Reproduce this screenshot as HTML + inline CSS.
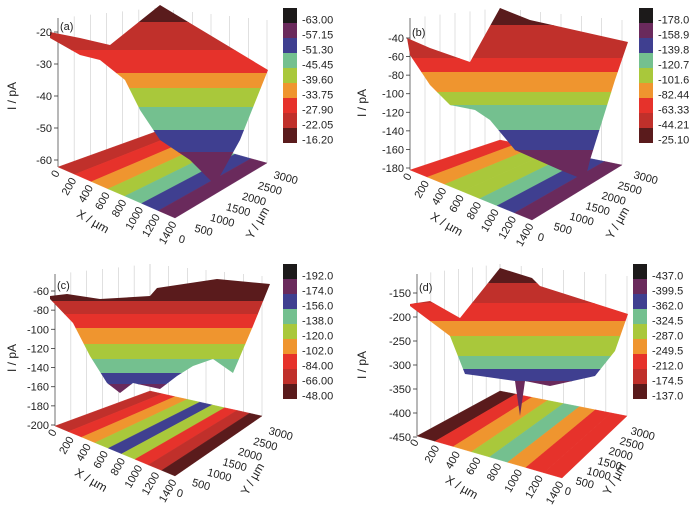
<!DOCTYPE html>
<html><head><meta charset="utf-8"><style>
body{margin:0;background:#fff;overflow:hidden;}
svg{display:block;font-family:"Liberation Sans",sans-serif;}
</style></head><body>
<svg id="fig" width="700" height="512" viewBox="0 0 700 512"></svg>
<script>
const palette=["#1c1a1a","#6a2a5c","#3f3f90","#74c08f","#a9c83b","#ef952f","#e6322b","#c0302b","#5a1b1c"];
const panelLabels=["(a)","(b)","(c)","(d)"];
const zTicksA=["-20","-30","-40","-50","-60"];
const zTicksB=["-40","-60","-80","-100","-120","-140","-160","-180"];
const zTicksC=["-60","-80","-100","-120","-140","-160","-180","-200"];
const zTicksD=["-150","-200","-250","-300","-350","-400","-450"];
const cbarA=["-63.00","-57.15","-51.30","-45.45","-39.60","-33.75","-27.90","-22.05","-16.20"];
const cbarB=["-178.0","-158.9","-139.8","-120.7","-101.6","-82.44","-63.33","-44.21","-25.10"];
const cbarC=["-192.0","-174.0","-156.0","-138.0","-120.0","-102.0","-84.00","-66.00","-48.00"];
const cbarD=["-437.0","-399.5","-362.0","-324.5","-287.0","-249.5","-212.0","-174.5","-137.0"];
const xTicks=["0","200","400","600","800","1000","1200","1400"];
const yTicks=["0","500","1000","1500","2000","2500","3000"];
const NS="http://www.w3.org/2000/svg";
const svg=document.getElementById('fig');
const defs=document.createElementNS(NS,'defs');svg.appendChild(defs);
function mk(tag,attrs,parent){const e=document.createElementNS(NS,tag);for(const k in attrs)e.setAttribute(k,attrs[k]);(parent||svg).appendChild(e);return e;}
function lerp(a,b,t){return [a[0]+(b[0]-a[0])*t,a[1]+(b[1]-a[1])*t];}
const panels=[
 {ox:0,oy:0,z:zTicksA,cb:cbarA,zTop:32,zBot:160,L:[58,167],F:[175,218],R:[267,163],K:[155,132],
  outline:[[50,32],[80,38],[110,45],[160,5],[268,70],[240,140],[215,185],[190,160],[160,140],[140,110],[125,80],[100,60],[80,55],[50,38]],
  cuts:[22,50,73,88,107,130,152,400],sc:[8,7,6,5,4,3,2,1],fc:[7,6,5,4,3,2,1],
  yS:[178,242],yE:[273,178]},
 {ox:350,oy:0,z:zTicksB,cb:cbarB,zTop:38,zBot:168,L:[60,170],F:[182,220],R:[272,165],K:[150,140],
  outline:[[57,38],[80,48],[120,62],[150,8],[180,20],[278,42],[265,80],[240,160],[235,180],[210,170],[165,150],[140,120],[125,110],[100,105],[80,85],[60,55]],
  cuts:[25,58,72,92,105,130,150,400],sc:[8,7,6,5,4,3,2,1],fc:[6,5,4,4,3,2,1],
  yS:[187,240],yE:[283,178]},
 {ox:0,oy:256,z:zTicksC,cb:cbarC,zTop:35,zBot:169,L:[55,170],F:[175,220],R:[262,160],K:[150,135],
  outline:[[50,40],[67,38],[100,43],[150,40],[157,32],[217,23],[270,28],[253,70],[233,117],[213,103],[193,110],[177,120],[160,133],[133,127],[120,137],[107,127],[90,100],[73,67],[50,43]],
  cuts:[45,58,72,88,103,117,128,400],sc:[8,7,6,5,4,3,2,1],fc:[7,6,5,4,2,4,6,7,8],
  yS:[176,240],yE:[268,178]},
 {ox:350,oy:256,z:zTicksD,cb:cbarD,zTop:37,zBot:181,L:[67,180],F:[212,222],R:[277,160],K:[150,135],
  outline:[[60,48],[80,45],[110,62],[150,12],[182,22],[190,30],[278,58],[265,95],[245,120],[200,130],[175,125],[170,160],[165,125],[130,120],[115,118],[100,80],[60,50]],
  cuts:[27,47,65,80,100,113,125,400],sc:[8,7,6,5,4,3,2,1],fc:[8,6,5,4,3,5,6,6],
  yS:[214,238],yE:[280,178]}
];
panels.forEach((p,pi)=>{
 const g=mk('g',{transform:`translate(${p.ox},${p.oy})`});
 
 
 const P=a=>a.map(v=>v[0].toFixed(1)+','+v[1].toFixed(1)).join(' ');
 const topY=8;
 const wall=mk('g',{stroke:'#ccc','stroke-width':0.6,fill:'none'},g);
 
 
 for(let i=0;i<=6;i++){const a=lerp(p.L,p.K,i/6);mk('line',{x1:a[0],y1:a[1],x2:a[0],y2:topY+(1-i/6)*10},wall);
  const b=lerp(p.K,p.R,i/6);mk('line',{x1:b[0],y1:b[1],x2:b[0],y2:topY+(i/6)*12},wall);}
 mk('line',{x1:p.L[0],y1:p.L[1],x2:p.L[0],y2:topY+10,stroke:'#555','stroke-width':0.8},g);
 const n=p.fc.length;
 p.fc.forEach((ci,i)=>{
  const t0=i/n,t1=(i+1)/n;
  const poly=mk('polygon',{points:P([lerp(p.L,p.F,t0),lerp(p.K,p.R,t0),lerp(p.K,p.R,t1),lerp(p.L,p.F,t1)]),fill:palette[ci],stroke:palette[ci],'stroke-width':0.4},g);
  
  
 });
 const cid='clip'+pi;
 const cp=mk('clipPath',{id:cid},defs);
 mk('polygon',{points:P(p.outline)},cp);
 const sg=mk('g',{'clip-path':`url(#${cid})`},g);
 
 
 let prev=0;
 p.cuts.forEach((c,i)=>{
  const r=mk('rect',{x:0,y:prev,width:300,height:c-prev+0.5,fill:palette[p.sc[i]]},sg);
  
  
  prev=c;
 });
 p.z.forEach((t,i)=>{
  const y=p.zTop+(p.zBot-p.zTop)*i/(p.z.length-1);
  mk('line',{x1:p.L[0]-4,y1:y,x2:p.L[0],y2:y,stroke:'#333','stroke-width':0.8},g);
  const tx=mk('text',{x:p.L[0]-6,y:y+4,'font-size':11,'text-anchor':'end',fill:'#222'},g);
  tx.textContent=t;
  
  
 });
 const zl=mk('text',{x:0,y:0,'font-size':12,'text-anchor':'middle',transform:`translate(16,${(p.zTop+p.zBot)/2}) rotate(-90)`,fill:'#222'},g);
 zl.textContent='I / pA';
 
 
 const pl=mk('text',{x:p.L[0]+2,y:p.zTop-2,'font-size':11,fill:'#222'},g);
 pl.textContent=panelLabels[pi];
 
 
 xTicks.forEach((t,i)=>{
  const a=lerp(p.L,p.F,i/(xTicks.length-1));
  const tx=mk('text',{x:0,y:0,'font-size':11,'text-anchor':'end',transform:`translate(${a[0]+2},${a[1]+6}) rotate(-60)`,fill:'#222'},g);
  tx.textContent=t;
  
  
 });
 const xm=lerp(p.L,p.F,0.35);
 const xl=mk('text',{x:0,y:0,'font-size':12,'text-anchor':'middle',transform:`translate(${xm[0]-8},${xm[1]+40}) rotate(30)`,fill:'#222'},g);
 xl.textContent='X / µm';
 
 
 yTicks.forEach((t,i)=>{
  const a=lerp(p.yS,p.yE,i/(yTicks.length-1));
  const tx=mk('text',{x:0,y:0,'font-size':11,'text-anchor':'start',transform:`translate(${a[0]},${a[1]}) rotate(15)`,fill:'#222'},g);
  tx.textContent=t;
  
  
 });
 const yl=mk('text',{x:0,y:0,'font-size':12,'text-anchor':'middle',transform:`translate(${p.yE[0]-12},${p.yE[1]+47}) rotate(-60)`,fill:'#222'},g);
 yl.textContent='Y / µm';
 
 
 const cx=pi==1?289:283,cy=8,ch=15;
 p.cb.forEach((t,i)=>{
  const r=mk('rect',{x:cx,y:cy+i*ch,width:14,height:ch,fill:palette[i]},g);
  
  
  const tx=mk('text',{x:cx+19,y:cy+i*ch+ch/2+8,'font-size':11,fill:'#222'},g);
  tx.textContent=t;
  
  
 });
});
</script>
</body></html>
